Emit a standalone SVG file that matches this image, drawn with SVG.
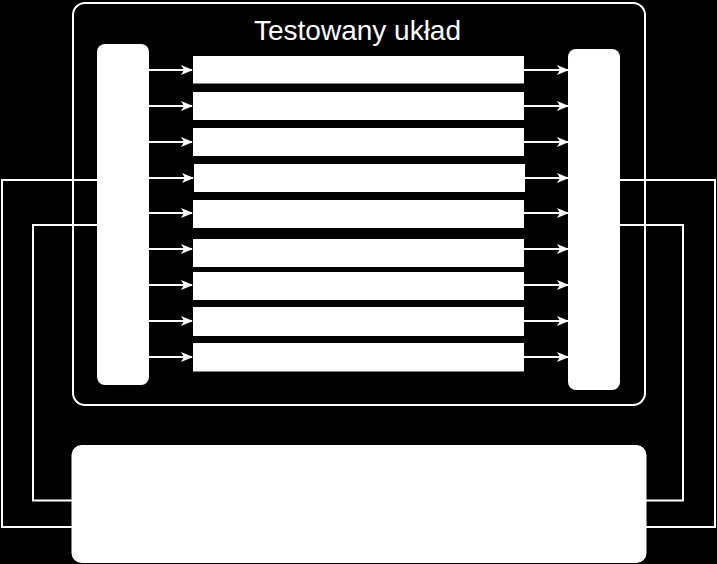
<svg xmlns="http://www.w3.org/2000/svg" width="717" height="564" viewBox="0 0 717 564">
<style>
.bg{fill:#000}
.box{fill:#fff;stroke:none}
.frame{fill:none;stroke:#fff;stroke-width:2}
.conn{fill:none;stroke:#fff;stroke-width:2}
.arr{fill:none;stroke:#fff;stroke-width:2;marker-end:url(#ah)}
.title{font-family:"Liberation Sans",Arial,sans-serif;font-size:28px;fill:#fff;text-anchor:middle}
</style>
<defs>
<marker id="ah" markerUnits="userSpaceOnUse" viewBox="0 0 12 10" markerWidth="12" markerHeight="10" refX="11" refY="5" orient="auto">
<path d="M0,0 L12,5 L0,10 L3,5 Z" fill="#fff"/>
</marker>
</defs>
<rect class="bg" x="0" y="0" width="717" height="564"/>
<g id="connectors">
<path class="conn" d="M97 180 H2 V527 H72"/>
<path class="conn" d="M97 225 H33 V500.5 H72"/>
<path class="conn" d="M620 180 H715 V527 H646"/>
<path class="conn" d="M620 225 H683 V500.5 H646"/>
<g id="arrows-in">
<line class="arr" x1="149" y1="70" x2="192" y2="70"/>
<line class="arr" x1="149" y1="106" x2="192" y2="106"/>
<line class="arr" x1="149" y1="142" x2="192" y2="142"/>
<line class="arr" x1="149" y1="178" x2="193" y2="178"/>
<line class="arr" x1="149" y1="213" x2="192" y2="213"/>
<line class="arr" x1="149" y1="249" x2="192" y2="249"/>
<line class="arr" x1="149" y1="285" x2="192" y2="285"/>
<line class="arr" x1="149" y1="321" x2="192" y2="321"/>
<line class="arr" x1="149" y1="357" x2="192" y2="357"/>
</g>
<g id="arrows-out">
<line class="arr" x1="524" y1="70" x2="568" y2="70"/>
<line class="arr" x1="524" y1="106" x2="568" y2="106"/>
<line class="arr" x1="524" y1="142" x2="568" y2="142"/>
<line class="arr" x1="525" y1="178" x2="568" y2="178"/>
<line class="arr" x1="524" y1="213" x2="568" y2="213"/>
<line class="arr" x1="524" y1="249" x2="568" y2="249"/>
<line class="arr" x1="524" y1="285" x2="568" y2="285"/>
<line class="arr" x1="524" y1="321" x2="568" y2="321"/>
<line class="arr" x1="524" y1="357" x2="568" y2="357"/>
</g>
</g>
<g id="dut">
<rect class="frame" x="73" y="3" width="572" height="402" rx="12"/>
<text class="title" x="357.5" y="39.5">Testowany układ</text>
</g>
<g id="left-block"><rect class="box" x="97" y="44" width="52" height="341" rx="8"/></g>
<g id="right-block"><rect class="box" x="568" y="49" width="52" height="341" rx="8"/></g>
<g id="bar1"><rect class="box" x="193" y="56" width="331" height="27.5"/></g>
<g id="bar2"><rect class="box" x="193" y="92" width="331" height="28"/></g>
<g id="bar3"><rect class="box" x="193" y="128" width="331" height="28"/></g>
<g id="bar4"><rect class="box" x="194" y="164" width="331" height="28"/></g>
<g id="bar5"><rect class="box" x="193" y="200" width="331" height="28"/></g>
<g id="bar6"><rect class="box" x="193" y="239" width="331" height="28"/></g>
<g id="bar7"><rect class="box" x="193" y="272" width="331" height="28"/></g>
<g id="bar8"><rect class="box" x="193" y="307" width="331" height="29"/></g>
<g id="bar9"><rect class="box" x="193" y="343" width="331" height="28.5"/></g>
<g id="bottom-block"><rect class="box" x="71.5" y="445" width="575" height="118" rx="10"/></g>
</svg>
